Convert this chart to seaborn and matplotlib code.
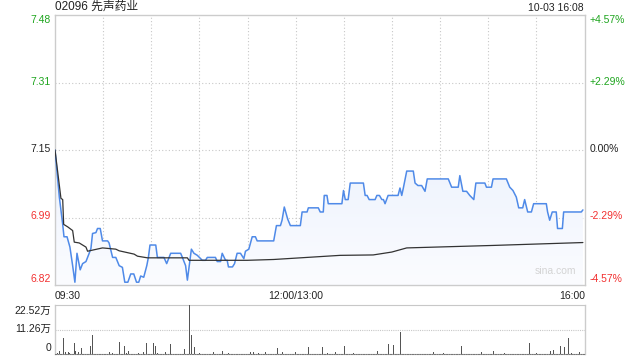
import numpy as np
import pandas as pd
import matplotlib
matplotlib.use("Agg")
import matplotlib.pyplot as plt
from matplotlib.patches import Polygon
import seaborn as sns

# ---------------- data ----------------
title = "02096 先声药业"
stamp = "10-03 16:08"
prev_close = 7.15
price_ticks = [7.48, 7.31, 7.15, 6.99, 6.82]
pct_ticks = ["+4.57%", "+2.29%", "0.00%", "-2.29%", "-4.57%"]
time_labels = ["09:30", "12:00/13:00", "16:00"]
vol_labels = ["22.52万", "11.26万", "0"]

price_min = [0, 2.7, 4.8, 5.6, 7.5, 9.3, 11, 12.4, 13.7, 15.7, 17.2, 19.3, 21.3, 22.4, 23.4,
             25.5, 26.5, 28.2, 29.6, 32.8, 33.7, 35.9, 37.9, 40, 42, 43.5, 45.4, 47.2, 49.1,
             50.8, 52.2, 53.4, 55.3, 57.2, 58.2, 59.2, 62.8, 63.8, 67.9, 69.6, 72.1, 78.3,
             79.4, 81.4, 82.5, 85, 86.6, 88.7, 91.8, 93.8, 94.9, 100, 101.1, 103.2, 104.2,
             106.3, 107.3, 108.1, 110.6, 111.9, 113.5, 115.6, 117.7, 118.7, 120.8, 122.9,
             124.9, 126, 136.3, 138, 140.5, 141.5, 142.9, 145, 146.7, 152.9, 154, 157.1,
             157.9, 164.1, 165.3, 167.2, 167.8, 169.5, 170.3, 178.8, 179.8, 180.9, 182.7,
             184, 192.2, 193.3, 194.5, 195.8, 199.5, 200.6, 202.2, 203.7, 204.7, 205.7,
             207.6, 213.8, 215, 216.1, 217.1, 219.2, 223.3, 224.4, 226.2, 228.5, 230.6,
             232, 245.1, 247.2, 251.3, 252.3, 254.2, 256.5, 258.5, 261, 262.3, 267.9,
             268.9, 272, 273, 281.3, 283.4, 285.4, 287.5, 289, 291.5, 292.7, 294.6, 296.9,
             298.3, 306.2, 307, 308.3, 309.9, 312.4, 313.2, 316.2, 317, 328, 329]
price_val = [7.15, 7.036, 6.97, 6.94, 6.94, 6.915, 6.87, 6.83, 6.90, 6.86, 6.875, 6.88, 6.90,
             6.912, 6.948, 6.95, 6.96, 6.96, 6.93, 6.93, 6.925, 6.89, 6.89, 6.87, 6.866,
             6.83, 6.83, 6.85, 6.85, 6.83, 6.83, 6.845, 6.842, 6.87, 6.89, 6.92, 6.92, 6.89,
             6.89, 6.875, 6.90, 6.90, 6.89, 6.87, 6.835, 6.91, 6.90, 6.895, 6.883, 6.883,
             6.89, 6.89, 6.88, 6.88, 6.90, 6.883, 6.883, 6.867, 6.867, 6.875, 6.90, 6.90,
             6.887, 6.905, 6.91, 6.94, 6.94, 6.93, 6.93, 6.967, 6.967, 6.98, 7.012, 6.983,
             6.967, 6.967, 7.0, 7.0, 7.01, 7.01, 7.0, 7.0, 7.04, 7.04, 7.02, 7.02, 7.052,
             7.03, 7.03, 7.07, 7.07, 7.04, 7.04, 7.03, 7.03, 7.04, 7.04, 7.03, 7.03, 7.02,
             7.04, 7.04, 7.058, 7.04, 7.058, 7.099, 7.099, 7.07, 7.064, 7.064, 7.05, 7.08,
             7.08, 7.06, 7.06, 7.088, 7.05, 7.05, 7.04, 7.03, 7.07, 7.07, 7.06, 7.06, 7.08,
             7.08, 7.06, 7.052, 7.036, 7.01, 7.01, 7.03, 7.0, 7.0, 7.02, 7.02, 7.0, 6.98,
             7.0, 7.0, 6.96, 6.96, 7.0, 7.0, 7.005]

avg_min = [0, 3.7, 4.8, 5.4, 7.9, 11, 12, 15.1, 17.2, 19.3, 20.3, 29.6, 37.9, 40, 49.3,
           51.4, 57.6, 82.5, 83.5, 119.8, 136.3, 152.9, 177.7, 198.3, 209.9, 219.2, 273, 329]
avg_val = [7.15, 7.033, 7.03, 6.97, 6.964, 6.955, 6.927, 6.925, 6.92, 6.915, 6.905, 6.913,
           6.91, 6.906, 6.898, 6.893, 6.889, 6.889, 6.883, 6.883, 6.885, 6.889, 6.895,
           6.896, 6.903, 6.913, 6.919, 6.926]

vol_min = [3, 5.5, 6.5, 7.5, 8.5, 10, 12, 13, 16.5, 20.5, 22, 23.5, 30, 34, 40, 43.5, 46,
           48, 50.5, 55, 57, 58.5, 60.5, 61.5, 62.5, 65.5, 72, 73, 80.5, 84, 85, 87, 96,
           104.5, 111.5, 118.5, 122, 123.5, 138.5, 142, 146.5, 150, 154.5, 158, 162, 166.5,
           180.5, 201, 208, 211, 215.5, 217.5, 253.5, 260.5, 273.5, 295.5, 309, 310.5,
           315, 317.5, 318.5, 320, 327, 329,
           1.5, 9, 14.5, 18, 25, 27.5, 36, 38, 44.5, 52, 64, 69, 76, 90, 99, 108, 114,
           127, 131, 134, 170, 175, 186, 190, 195, 225, 230, 236, 242, 248, 266, 280,
           286, 300, 322]
vol_val = [1.4, 7.5, 1.0, 0.7, 1.0, 0.7, 4.9, 1.2, 2.6, 16.1, 3.5, 8.7, 6.4, 0.7, 5.7, 3.8,
           1.2, 0.7, 8.7, 0.7, 4.9, 15.2, 9.5, 4.9, 3.5, 8.7, 4.4, 5.2, 2.3, 22.52, 8.7, 3.2,
           4.4, 1.4, 1.4, 4.4, 0.7, 0.7, 2.6, 1.0, 1.4, 1.0, 2.3, 3.2, 3.2, 3.2, 3.5, 1.4,
           4.4, 4.1, 9.9, 4.4, 3.5, 2.3, 1.4, 5.2, 1.4, 2.0, 3.5, 3.0, 4.1, 7.5, 0.8, 4.1,
           0.6, 0.5, 0.8, 0.6, 0.5, 0.7, 0.6, 0.9, 0.5, 0.6, 0.5, 0.7, 0.5, 0.6, 0.8, 0.5,
           0.6, 0.5, 0.7, 0.6, 0.5, 0.8, 0.6, 0.5, 0.7, 0.5, 0.6, 0.8, 0.5, 0.6, 0.7, 0.5,
           0.6, 0.5, 0.6]

# ---------------- style ----------------
sns.set_theme(style="white")
plt.rcParams['font.family'] = ['Liberation Sans', 'Noto Sans CJK SC', 'DejaVu Sans']
plt.rcParams['font.size'] = 7.5

GREEN = '#1ea51e'
RED = '#f23030'
BLUE = '#4f8ae8'
GRID = '#c8c8c8'
BORDER = '#cccccc'

fig = plt.figure(figsize=(6.4, 3.6), dpi=100)
W, H = 640, 360
L, R = 55 / W, 584.5 / W
ax = fig.add_axes([L, 1 - 285 / H, R - L, (285 - 15) / H])
axv = fig.add_axes([L, 1 - 354 / H, R - L, (354 - 305) / H])

span = 0.0457 * prev_close
ymin, ymax = prev_close - span, prev_close + span
TMAX = 330

df = pd.DataFrame({"t": price_min, "p": price_val})
da = pd.DataFrame({"t": avg_min, "p": avg_val})

# gradient fill under price line
grad = np.linspace(0, 1, 256).reshape(-1, 1)
cmap = matplotlib.colors.LinearSegmentedColormap.from_list("g", ["#fbfcff", "#dfe9fb"])
im = ax.imshow(grad, extent=[0, TMAX, ymin, ymax], origin='lower', aspect='auto',
               cmap=cmap, zorder=1)
poly = Polygon(np.column_stack([list(price_min) + [price_min[-1], price_min[0]],
                                list(price_val) + [ymin, ymin]]),
               closed=True, facecolor='none', edgecolor='none')
ax.add_patch(poly)
im.set_clip_path(poly)

sns.lineplot(data=df, x="t", y="p", ax=ax, color=BLUE, lw=1.1, estimator=None,
             sort=False, zorder=3)
sns.lineplot(data=da, x="t", y="p", ax=ax, color='#333333', lw=0.9, estimator=None,
             sort=False, zorder=4)

ax.set_xlim(0, TMAX)
ax.set_ylim(ymin, ymax)
grid_prices = [prev_close + span / 2, prev_close, prev_close - span / 2]
for gp in grid_prices:
    ax.axhline(gp, color=GRID, lw=0.8, ls=(0, (1, 2)), zorder=0)
for t in range(30, TMAX, 30):
    ax.axvline(t, color=GRID, lw=0.8, ls=(0, (1, 2)), zorder=0)
ax.set_xticks([]); ax.set_yticks([])
ax.set_xlabel(""); ax.set_ylabel("")
for s in ax.spines.values():
    s.set_color(BORDER); s.set_linewidth(1)

# price labels (left) and pct labels (right)
label_y = [20, 82, 149, 216, 279]
colors = [GREEN, GREEN, '#222222', RED, RED]
for lab, pc, yy, c in zip(price_ticks, pct_ticks, label_y, colors):
    fig.text(51 / W, 1 - yy / H, f"{lab:.2f}", ha='right', va='center', color=c, fontsize=7.5)
    fig.text(590 / W, 1 - yy / H, pc, ha='left', va='center', color=c, fontsize=7.5)

fig.text(55 / W, 1 - 7 / H, title, ha='left', va='center', color='#222222', fontsize=8.5)
fig.text(584 / W, 1 - 8 / H, stamp, ha='right', va='center', color='#222222', fontsize=7.5)
ax.text(0.985, 0.035, "sina.com", transform=ax.transAxes, ha='right', va='bottom',
        color='#d4d4d4', fontsize=7.5)

# time labels
for lab, xx, ha in zip(time_labels, [55, 296, 585], ['left', 'center', 'right']):
    fig.text(xx / W, 1 - 296 / H, lab, ha=ha, va='center', color='#222222', fontsize=7.5)

# volume
VMAX = 22.52
axv.bar(vol_min, vol_val, width=0.45, color='#555555', linewidth=0, zorder=3)
axv.set_xlim(0, TMAX)
axv.set_ylim(0, VMAX)
axv.axhline(VMAX / 2, color=GRID, lw=0.8, ls=(0, (1, 1)), zorder=0)
axv.set_xticks([]); axv.set_yticks([])
for k in ['left', 'right']:
    axv.spines[k].set_color(BORDER); axv.spines[k].set_linewidth(1)
axv.spines['top'].set_color(GRID); axv.spines['top'].set_linestyle((0, (1, 1)))
axv.spines['top'].set_linewidth(0.8)
axv.spines['bottom'].set_color('#777777'); axv.spines['bottom'].set_linestyle((0, (1, 1.2)))
axv.spines['bottom'].set_linewidth(0.8)

for lab, yy in zip(vol_labels, [311, 329, 348]):
    fig.text(51 / W, 1 - yy / H, lab, ha='right', va='center', color='#222222', fontsize=7.5)

fig.savefig("out.png", dpi=100)
